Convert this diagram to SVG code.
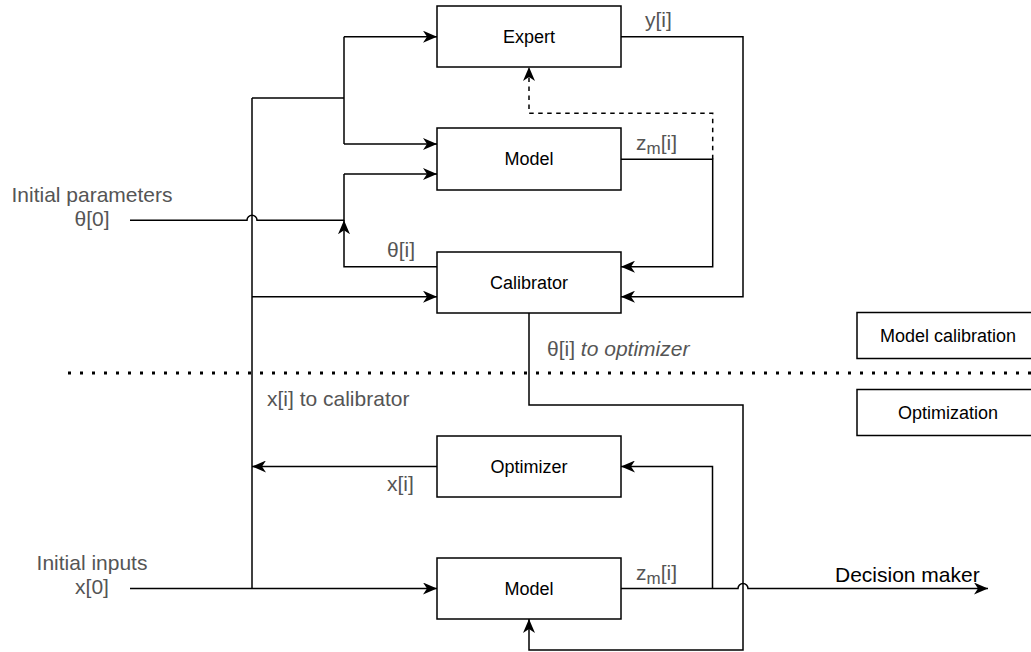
<svg xmlns="http://www.w3.org/2000/svg" width="1031" height="652" viewBox="0 0 1031 652">
  <style>
    .box { fill: #ffffff; stroke: #000000; stroke-width: 1.5; }
    .box-text { font-family: "Liberation Sans", Arial, Helvetica, sans-serif; font-size: 18px; fill: #000000; text-anchor: middle; dominant-baseline: central; }
    .wire { fill: none; stroke: #000000; stroke-width: 1.5; }
    .arrow { marker-end: url(#head); }
    .dashed { stroke-dasharray: 4.5 4.5; }
    .divider { fill: none; stroke: #000000; stroke-width: 3; stroke-dasharray: 3 9; }
    .label { font-family: "Liberation Sans", Arial, Helvetica, sans-serif; font-size: 21px; fill: #555555; }
    .mid { text-anchor: middle; }
    .sub { font-size: 17px; }
    .dark { fill: #000000; }
  </style>
  <defs>
    <marker id="head" markerUnits="userSpaceOnUse" markerWidth="14" markerHeight="12" refX="14" refY="6" orient="auto" viewBox="0 0 14 12">
      <path d="M14,6 L0,0 L4,6 L0,12 Z" fill="#000000"/>
    </marker>
  </defs>

  <!-- divider between the two stages -->
  <path class="divider" d="M68,373 H1031"/>

  <!-- connectors -->
  <g id="connectors">
    <!-- shared input rail -->
    <path class="wire" d="M252,98 V588.5"/>
    <path class="wire" d="M252,98 H344"/>
    <path class="wire" d="M344,36.7 V144"/>
    <path class="wire arrow" d="M344,36.7 H437"/>
    <path class="wire arrow" d="M344,144 H437"/>
    <path class="wire arrow" d="M252,296.7 H437"/>

    <!-- initial parameters, hopping over the rail -->
    <path class="wire" d="M130,220.3 H247 A5,5 0 0 1 257,220.3 H344 V174"/>
    <path class="wire arrow" d="M344,174 H437"/>

    <!-- calibrated parameters back to the model -->
    <path class="wire arrow" d="M437,266.7 H344 V220.3"/>

    <!-- expert output to calibrator -->
    <path class="wire arrow" d="M621,36.7 H743 V296.7 H621"/>

    <!-- model output to calibrator -->
    <path class="wire arrow" d="M621,159.3 H712.7 V266.7 H621"/>

    <!-- model output fed to the expert -->
    <path class="wire dashed arrow" d="M712.7,159.3 V113.3 H529 V67"/>

    <!-- calibrator to the optimisation model -->
    <path class="wire arrow" d="M529,313 V405 H743 V650 H529 V619"/>

    <!-- optimizer output back to the rail -->
    <path class="wire arrow" d="M437,466.5 H252"/>

    <!-- initial inputs -->
    <path class="wire arrow" d="M130,588.5 H437"/>

    <!-- model output to optimizer -->
    <path class="wire arrow" d="M712.5,588.5 V466.5 H621"/>

    <!-- model output to the decision maker -->
    <path class="wire arrow" d="M621,588.5 H738 A5,5 0 0 1 748,588.5 H988"/>
  </g>

  <!-- nodes -->
  <g id="expert">
    <rect class="box" x="437" y="6" width="184" height="61"/>
    <text class="box-text" x="529" y="36.5">Expert</text>
  </g>
  <g id="model-calibration-model">
    <rect class="box" x="437" y="128" width="184" height="62"/>
    <text class="box-text" x="529" y="159">Model</text>
  </g>
  <g id="calibrator">
    <rect class="box" x="437" y="252" width="184" height="61"/>
    <text class="box-text" x="529" y="282.5">Calibrator</text>
  </g>
  <g id="optimizer">
    <rect class="box" x="437" y="436" width="184" height="61"/>
    <text class="box-text" x="529" y="466.5">Optimizer</text>
  </g>
  <g id="optimization-model">
    <rect class="box" x="437" y="558" width="184" height="61"/>
    <text class="box-text" x="529" y="588.5">Model</text>
  </g>
  <g id="legend-calibration">
    <rect class="box" x="857" y="312.5" width="184" height="46"/>
    <text class="box-text" x="948" y="335.5">Model calibration</text>
  </g>
  <g id="legend-optimization">
    <rect class="box" x="857" y="389.5" width="184" height="46"/>
    <text class="box-text" x="948" y="412.5">Optimization</text>
  </g>

  <!-- labels -->
  <g id="labels">
    <text class="label mid" x="92" y="202">Initial parameters</text>
    <text class="label mid" x="92" y="226">θ[0]</text>
    <text class="label mid" x="92" y="570">Initial inputs</text>
    <text class="label mid" x="92" y="594">x[0]</text>
    <text class="label" x="645" y="27">y[i]</text>
    <text class="label" x="636" y="150">z<tspan class="sub" dy="4">m</tspan><tspan dy="-4">[i]</tspan></text>
    <text class="label" x="387" y="257">θ[i]</text>
    <text class="label" x="547" y="356">θ[i] <tspan font-style="italic">to optimizer</tspan></text>
    <text class="label" x="267" y="406">x[i] to calibrator</text>
    <text class="label" x="387" y="491">x[i]</text>
    <text class="label" x="636" y="580">z<tspan class="sub" dy="4">m</tspan><tspan dy="-4">[i]</tspan></text>
    <text class="label dark" x="835" y="582">Decision maker</text>
  </g>
</svg>
